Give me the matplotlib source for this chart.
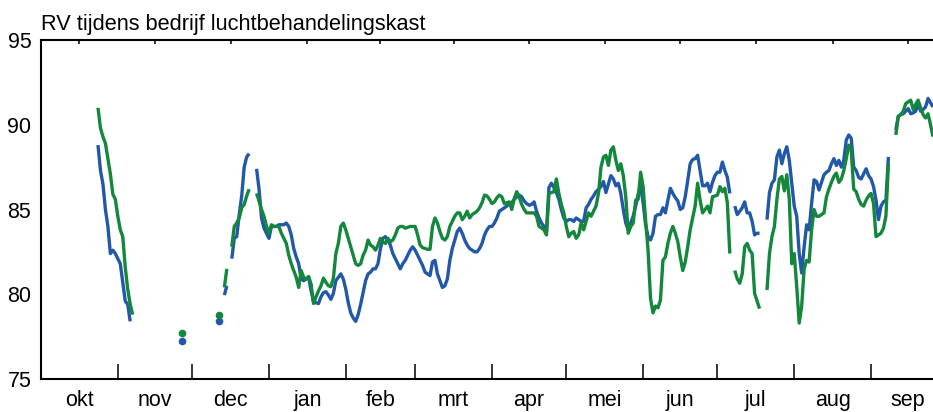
import matplotlib
matplotlib.use('Agg')
import matplotlib.pyplot as plt
import numpy as np
import pandas as pd

plt.rcParams['font.family'] = ['Liberation Sans', 'DejaVu Sans']

title = 'RV tijdens bedrijf luchtbehandelingskast'
month_labels = ['okt', 'nov', 'dec', 'jan', 'feb', 'mrt', 'apr', 'mei',
                'jun', 'jul', 'aug', 'sep']
blue = '#2158a8'
green = '#13873c'

# daily values, one list per uninterrupted stretch: (first day, values)
blue_segments = [
    ('2016-10-24', [88.8, 87.3, 86.5, 85.0, 84.0, 82.4, 82.6, 82.4, 82.1, 81.8,
                    80.7, 79.6, 79.4, 78.4]),
    ('2016-11-27', [77.25]),
    ('2016-12-12', [78.45]),
    ('2016-12-14', [79.95, 80.5]),
    ('2016-12-17', [82.1, 83.3, 83.4, 84.7, 85.8, 87.5, 88.1, 88.3]),
    ('2016-12-27', [87.4, 86.2, 84.5, 83.9, 83.6, 83.3, 84.0, 84.0, 84.0, 84.1,
                    84.1, 84.1, 84.2, 84.0,
                    83.5, 82.7, 82.2, 81.8, 80.9, 80.8, 80.9, 81.0, 80.2, 79.55,
                    79.5, 79.45, 79.85, 80.1, 80.15, 79.95, 79.7, 80.05, 80.8, 81.0,
                    81.2, 80.9, 80.3, 79.5, 78.9, 78.6, 78.4, 78.8, 79.4, 80.1,
                    80.8, 81.2, 81.3, 81.5, 81.5, 81.8, 82.7, 83.3, 83.4, 83.2,
                    82.9, 82.4, 82.1, 81.8, 81.5, 81.8, 82.0, 82.3, 82.6, 82.8,
                    82.6, 82.3, 82.0, 81.7, 81.3, 81.2, 81.1, 81.9, 82.0, 81.2,
                    80.8, 80.4, 80.5, 80.9, 82.0, 82.7, 83.2, 83.7, 83.9, 83.6,
                    83.2, 82.9, 82.7, 82.6, 82.5, 82.5, 82.7, 83.0, 83.5, 83.8,
                    84.0, 84.0, 84.2, 84.5, 84.9, 85.0, 85.1, 85.2, 85.35, 85.4,
                    85.6, 85.75, 85.85, 85.75, 85.5, 85.35, 85.25, 85.3, 85.45, 84.9,
                    84.5, 84.2, 84.0, 83.7, 86.3, 86.55, 86.3, 86.0, 85.6, 85.0,
                    84.5, 84.3, 84.4, 84.4, 84.3, 84.5, 84.4, 84.3, 84.3, 85.1,
                    85.3, 85.6, 85.8, 86.05, 86.2, 86.35, 86.65, 86.0, 86.5, 87.0,
                    86.8, 86.4, 86.55, 85.95, 85.0, 84.2, 83.8, 84.2, 84.6, 85.2,
                    85.9, 86.35, 85.4, 84.1, 83.4, 83.2, 83.6, 84.6, 84.7, 84.7,
                    85.1, 84.8, 85.55, 86.25, 85.95, 85.7, 85.5, 85.0, 85.1, 85.75,
                    86.7, 87.7, 87.95, 88.0, 88.2, 87.3, 86.4, 86.4, 86.55, 86.05,
                    86.6, 87.0, 87.2, 87.2, 87.8, 87.3, 86.9, 85.95]),
    ('2017-07-08', [85.2, 84.7, 84.9, 85.1, 85.45, 84.8, 84.8, 84.3, 83.5, 83.6,
                    83.6]),
    ('2017-07-21', [84.4, 86.0, 86.55, 86.75, 88.1, 88.5, 87.7, 88.3, 88.7, 87.9,
                    86.55, 85.2, 84.6, 82.4, 81.25, 82.8, 84.1, 83.8, 85.35, 86.75,
                    86.65, 86.15, 86.6, 87.05, 87.2, 87.3, 87.7, 88.0, 87.6, 87.9,
                    87.5, 87.9, 89.1, 89.4, 89.2, 87.5, 87.3, 86.9, 86.8, 87.1,
                    87.4, 87.0, 86.8, 86.35, 85.55, 84.4, 85.2, 85.45, 85.55, 88.1]),
    ('2017-09-11', [89.7, 90.5, 90.6, 90.65, 90.8, 90.95, 90.65, 90.7, 90.8, 91.25,
                    90.8, 90.9, 91.05, 91.55, 91.3, 91.05]),
]

green_segments = [
    ('2016-10-24', [91.0, 89.8, 89.3, 88.9, 88.0, 87.1, 85.9, 85.6, 84.6, 83.8,
                    83.4, 81.6, 80.3, 79.4, 78.8]),
    ('2016-11-27', [77.7]),
    ('2016-12-12', [78.8]),
    ('2016-12-14', [80.4, 81.5]),
    ('2016-12-17', [82.8, 84.0, 84.2, 84.5, 85.1, 85.3, 85.8, 86.2]),
    ('2016-12-27', [85.95, 85.5, 85.0, 84.6, 84.0, 83.6, 84.1, 84.0, 84.0, 84.0,
                    83.6, 83.3, 83.0, 82.3,
                    81.8, 81.4, 81.0, 80.4, 81.4, 81.0, 80.9, 81.05, 80.6, 79.45,
                    79.85, 80.2, 80.5, 80.95, 80.7, 80.5, 80.45, 80.95, 82.4, 83.0,
                    84.0, 84.2, 83.8, 83.3, 82.8, 82.3, 81.8, 81.7, 81.8, 82.3,
                    82.6, 83.2, 82.9, 82.8, 82.6, 82.9, 83.3, 83.1, 83.0, 83.3,
                    83.1, 83.2, 83.5, 83.9, 84.0, 84.0, 83.9, 83.95, 84.0, 84.0,
                    84.0, 83.5, 82.9, 82.75, 82.7, 82.65, 82.65, 84.0, 84.5, 84.2,
                    83.7, 83.3, 83.2, 83.4, 84.0, 84.3, 84.6, 84.8, 84.8, 84.4,
                    84.6, 84.9, 84.5, 84.7, 84.8, 84.9, 85.1, 85.4, 85.85, 85.8,
                    85.6, 85.35, 85.45, 85.7, 85.85, 85.75, 85.35, 85.4, 85.45, 85.0,
                    85.65, 86.05, 85.75, 85.3, 85.0, 84.8, 84.8, 84.8, 84.8, 84.6,
                    84.0, 83.9, 83.8, 83.5, 85.95, 86.0, 86.05, 86.8, 85.95, 85.3,
                    84.8, 84.0, 83.4, 83.6, 83.7, 83.3, 83.5, 84.2, 83.8, 84.3,
                    84.8, 84.6, 84.9, 85.2, 85.95, 87.5, 88.1, 88.2, 87.6, 88.5,
                    88.7, 87.9, 87.3, 87.7, 87.0, 85.75, 83.6, 84.0, 84.2, 85.55,
                    85.6, 87.2, 86.35, 84.4, 82.6, 79.75, 78.9, 79.3, 79.2, 79.65,
                    82.0, 82.2, 83.0, 83.6, 84.0, 83.6, 83.1, 82.2, 81.4, 81.9,
                    82.8, 83.8, 84.5, 85.2, 86.55, 85.55, 84.8, 85.0, 85.2, 84.8,
                    85.75, 85.8, 85.85, 86.35, 86.05, 86.25, 85.4, 82.4]),
    ('2017-07-08', [81.4, 80.9, 80.65, 81.2, 82.8, 83.0, 82.6, 82.4, 80.05, 79.6,
                    79.15]),
    ('2017-07-21', [80.25, 82.4, 83.4, 84.0, 85.6, 86.8, 86.95, 86.1, 87.05, 85.6,
                    81.8, 82.4, 80.45, 78.3, 79.3, 81.5, 82.0, 81.9, 83.8, 85.0,
                    84.6, 84.6, 84.7, 84.8, 85.75, 86.2, 86.6, 86.95, 87.15, 86.6,
                    86.8, 87.3, 88.0, 88.8, 88.5, 86.2, 86.05, 85.6, 85.3, 85.2,
                    85.55, 85.8, 85.95, 85.35, 83.4, 83.5, 83.6, 83.9, 84.6, 87.7]),
    ('2017-09-11', [89.4, 90.5, 90.6, 90.8, 91.25, 91.35, 91.45, 90.9, 91.2, 91.45,
                    91.0, 90.6, 90.4, 90.65, 90.0, 89.3]),
]

fig = plt.figure(figsize=(9.33, 4.12), dpi=100, facecolor='white')
ax = fig.add_axes([41 / 933, 33 / 412, 892 / 933, 339 / 412])


def draw(segments, color):
    for start, vals in segments:
        dates = pd.date_range(start, periods=len(vals), freq='D')
        if len(vals) == 1:
            ax.plot(dates, vals, 'o', color=color, ms=5.5, mec='none')
        else:
            ax.plot(dates, vals, color=color, lw=2.4, solid_capstyle='butt')


draw(blue_segments, blue)
draw(green_segments, green)

months = pd.date_range('2016-10-01', periods=13, freq='MS')
mids = months[:-1] + (months[1:] - months[:-1]) / 2

ax.set_xlim(months[0], months[0] + pd.Timedelta(days=360))
ax.set_ylim(75, 95)
ax.set_yticks([75, 80, 85, 90, 95])

# month boundaries: ticks at the bottom; month middles: labels + small top ticks
ax.set_xticks(months[1:-1])
ax.set_xticks(mids, minor=True)
ax.set_xticklabels(month_labels, minor=True)
ax.tick_params(axis='x', which='major', direction='in', length=11, width=1.1,
               bottom=True, top=False, labelbottom=False)
ax.tick_params(axis='x', which='minor', direction='in', length=3, width=1.1,
               bottom=False, top=True, labelbottom=True, labelsize=15.5, pad=8)
ax.tick_params(axis='y', length=0, labelsize=15.5, pad=7)

for s in ['left', 'bottom', 'top']:
    ax.spines[s].set_linewidth(1.5)
ax.spines['right'].set_visible(False)

fig.text(41 / 933, 1 - 30 / 412, title, fontsize=15.7, ha='left', va='baseline')

fig.savefig('out.png', dpi=100)
